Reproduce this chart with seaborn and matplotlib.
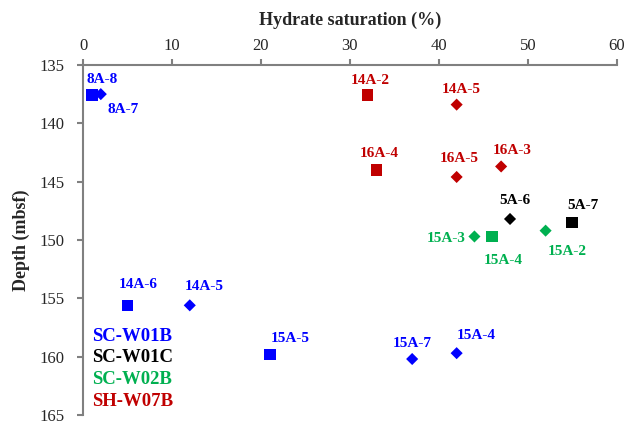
import matplotlib
matplotlib.use("Agg")
import matplotlib.pyplot as plt
import seaborn as sns
import pandas as pd
from matplotlib.lines import Line2D

# ---- data ----
wells = ["SC-W01B", "SC-W01B", "SH-W07B", "SH-W07B", "SH-W07B", "SH-W07B", "SH-W07B",
         "SC-W01C", "SC-W01C", "SC-W02B", "SC-W02B", "SC-W02B",
         "SC-W01B", "SC-W01B", "SC-W01B", "SC-W01B", "SC-W01B"]
shapes = ["square", "diamond", "square", "diamond", "square", "diamond", "diamond",
          "diamond", "square", "diamond", "square", "diamond",
          "square", "diamond", "square", "diamond", "diamond"]
sample_labels = ["8A-8", "8A-7", "14A-2", "14A-5", "16A-4", "16A-5", "16A-3",
                 "5A-6", "5A-7", "15A-3", "15A-4", "15A-2",
                 "14A-6", "14A-5", "15A-5", "15A-7", "15A-4"]
saturation = [1.0, 2.0, 32.0, 42.0, 33.0, 42.0, 47.0,
              48.0, 55.0, 44.0, 46.0, 52.0,
              5.0, 12.0, 21.0, 37.0, 42.0]
depth = [137.6, 137.5, 137.6, 138.4, 144.0, 144.6, 143.7,
         148.2, 148.5, 149.7, 149.7, 149.2,
         155.6, 155.6, 159.8, 160.2, 159.7]
well_order = ["SC-W01B", "SC-W01C", "SC-W02B", "SH-W07B"]
x_ticks = [0, 10, 20, 30, 40, 50, 60]
y_ticks = [135, 140, 145, 150, 155, 160, 165]

# ---- style ----
colors = {"SC-W01B": "#0000FF", "SC-W01C": "#000000", "SC-W02B": "#00B050", "SH-W07B": "#C00000"}
label_offsets = [(10, 16), (22, -15), (3, 15), (5, 15), (3, 16), (3, 18), (11, 16),
                 (5, 18), (11, 17), (-28, -2), (11, -24), (22, -21),
                 (11, 21), (14, 19), (20, 16), (0, 16), (20, 18)]

df = pd.DataFrame({"well": wells, "shape": shapes, "sat": saturation, "depth": depth})

sns.set_style("white")
plt.rcParams["font.family"] = ["Liberation Serif", "DejaVu Serif"]

fig = plt.figure(figsize=(6.4, 4.29), dpi=100)
ax = fig.add_axes([0.1297, 0.0326, 0.834, 0.816])

for shp, mk, sz in [("square", "s", 70), ("diamond", "D", 38)]:
    sub = df[df["shape"] == shp]
    sns.scatterplot(data=sub, x="sat", y="depth", hue="well", palette=colors,
                    marker=mk, s=sz, linewidth=0, ax=ax, legend=False)

for lab, xv, yv, wl, off in zip(sample_labels, saturation, depth, wells, label_offsets):
    ax.annotate(lab, (xv, yv), xytext=off, textcoords="offset pixels",
                ha="center", va="center", color=colors[wl], fontsize=11,
                fontweight="bold")

ax.set_xlim(0, 60)
ax.set_ylim(165, 135)
ax.set_xticks(x_ticks)
ax.set_yticks(y_ticks)
ax.xaxis.tick_top()
ax.xaxis.set_label_position("top")
ax.set_xlabel("Hydrate saturation (%)", fontsize=13, fontweight="bold", labelpad=9)
ax.set_ylabel("Depth (mbsf)", fontsize=13, fontweight="bold", labelpad=7)
ax.tick_params(axis="both", which="major", labelsize=12, length=4, width=1.5,
               color="#808080", direction="out")
ax.tick_params(axis="x", top=True, bottom=False, pad=4)
ax.tick_params(axis="y", left=True, right=False, pad=9)
for side in ["right", "bottom"]:
    ax.spines[side].set_visible(False)
for side in ["left", "top"]:
    ax.spines[side].set_color("#808080")
    ax.spines[side].set_linewidth(1.5)

handles = [Line2D([], [], linestyle="none") for _ in well_order]
leg = ax.legend(handles, well_order, loc="lower left", bbox_to_anchor=(-0.014, -0.034),
                frameon=False, handlelength=0, handletextpad=0, labelspacing=0.25,
                prop={"weight": "bold", "size": 13.5})
for t, w in zip(leg.get_texts(), well_order):
    t.set_color(colors[w])

fig.savefig("out.png", dpi=100)
